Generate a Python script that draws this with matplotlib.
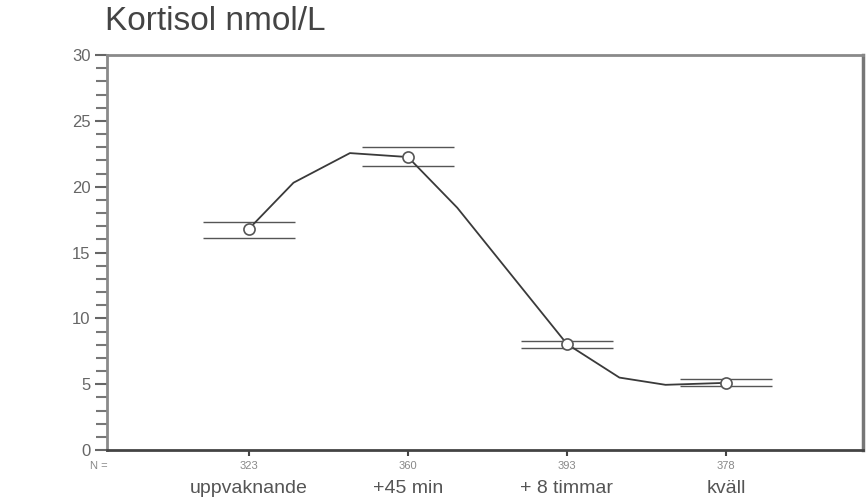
import matplotlib
matplotlib.use("Agg")
import matplotlib.pyplot as plt
from matplotlib.ticker import MultipleLocator

# Data
categories = ["uppvaknande", "+45 min", "+ 8 timmar", "kväll"]
n_labels = ["323", "360", "393", "378"]
cat_x = [1, 2, 3, 4]
means = [16.8, 22.25, 8.05, 5.1]
upper = [17.3, 23.0, 8.3, 5.4]
lower = [16.1, 21.6, 7.75, 4.85]
# smoothed curve through the means
curve_x = [1.0, 1.28, 1.635, 2.0, 2.31, 3.0, 3.33, 3.62, 4.0]
curve_y = [16.8, 20.3, 22.55, 22.25, 18.4, 8.05, 5.5, 4.95, 5.1]

plt.rcParams['font.family'] = ['Liberation Sans', 'DejaVu Sans']

fig = plt.figure(figsize=(8.66, 4.97), dpi=100)
ax = fig.add_axes([107/866, 1-450/497, (863-107)/866, (450-55)/497])

ax.plot(curve_x, curve_y, color="#3a3a3a", lw=1.3, zorder=3)
half = 0.29
for x, u, l in zip(cat_x, upper, lower):
    ax.hlines([u, l], x - half, x + half, colors="#555555", lw=1.0, zorder=2)
ax.plot(cat_x, means, linestyle="none", marker="o", markersize=8,
        markerfacecolor="white", markeredgecolor="#555555", markeredgewidth=1.2, zorder=4)

ax.set_xlim(0.107, 4.862)
ax.set_ylim(0, 30)
ax.yaxis.set_major_locator(MultipleLocator(5))
ax.yaxis.set_minor_locator(MultipleLocator(1))
ax.tick_params(axis="y", which="major", direction="out", length=9, width=1.5,
               color="#666666", labelsize=12, labelcolor="#666666", pad=3)
ax.tick_params(axis="y", which="minor", direction="out", length=8, width=1.5, color="#777777")
ax.set_xticks(cat_x)
ax.set_xticklabels(n_labels)
ax.tick_params(axis="x", direction="out", length=4, width=1.5, color="#444444",
               labelsize=8, labelcolor="#888888", pad=4)

for s in ["left", "top"]:
    ax.spines[s].set_color("#8a8a8a")
    ax.spines[s].set_linewidth(2)
ax.spines["right"].set_color("#777777")
ax.spines["right"].set_linewidth(2.5)
ax.spines["bottom"].set_color("#444444")
ax.spines["bottom"].set_linewidth(2)

ax.text(90/866, 1-466/497, "N =", transform=fig.transFigure, fontsize=8,
        color="#888888", ha="left", va="center")
for x, lab in zip(cat_x, categories):
    ax.annotate(lab, xy=(x, 0), xycoords=("data", "axes fraction"),
                xytext=(0, -27.5), textcoords="offset points",
                ha="center", va="center", fontsize=14, color="#555555")
fig.text(105/866, 1-22/497, "Kortisol nmol/L", fontsize=24, color="#444444",
         ha="left", va="center")

fig.savefig("out.png", dpi=100)
